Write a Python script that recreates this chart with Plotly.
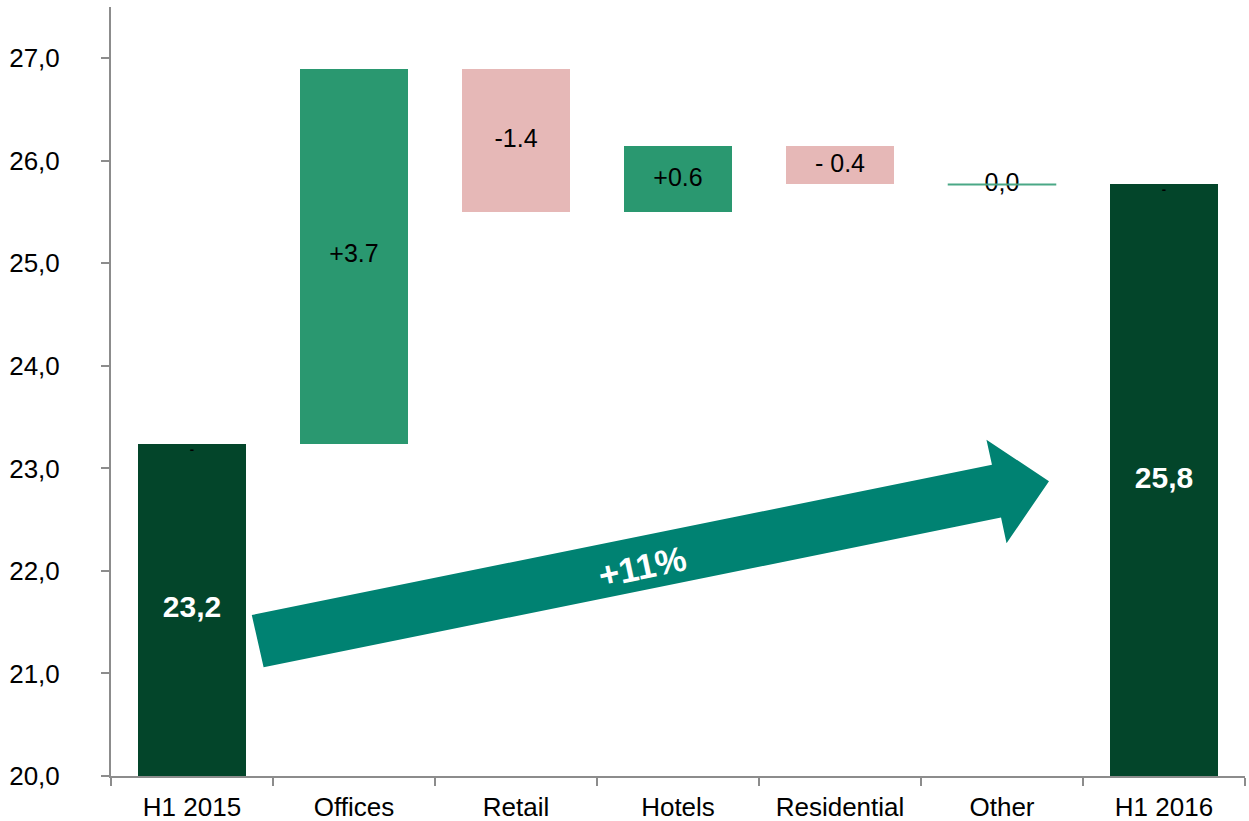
import plotly.graph_objects as go

# Waterfall data: opening total, segment changes, closing total
categories = ["H1 2015", "Offices", "Retail", "Hotels", "Residential", "Other", "H1 2016"]
opening_value = 23.24
segment_changes = [3.66, -1.40, 0.64, -0.37, 0.00]
segment_labels = ["+3.7", "-1.4", "+0.6", "- 0.4", "0,0"]
total_labels = ["23,2", "25,8"]
growth_label = "+11%"
y_ticks = [20, 21, 22, 23, 24, 25, 26, 27]

DARK = "#03452a"
UP = "#2a9870"
DOWN = "#e6b8b7"
ARROW = "#008272"
FONT = "Arial, Liberation Sans, sans-serif"
BAR_W = 0.67

closing_value = opening_value + sum(segment_changes)

# bar bases and heights
bases, heights, colors = [20.0], [opening_value - 20.0], [DARK]
level = opening_value
for ch in segment_changes:
    bases.append(level if ch >= 0 else level + ch)
    heights.append(abs(ch))
    colors.append(UP if ch >= 0 else DOWN)
    level += ch
bases.append(20.0)
heights.append(closing_value - 20.0)
colors.append(DARK)

fig = go.Figure()
fig.add_trace(go.Bar(
    x=categories, y=heights, base=bases, width=BAR_W,
    marker=dict(color=colors, line=dict(width=0)),
    hoverinfo="skip", showlegend=False,
))

# zero-change segment shown as a thin line
zero_idx = [i + 1 for i, ch in enumerate(segment_changes) if ch == 0]
for i in zero_idx:
    y0 = bases[i]
    fig.add_trace(go.Scatter(
        x=[i - BAR_W / 2, i + BAR_W / 2], y=[y0, y0], mode="lines",
        line=dict(color="#4aa886", width=2), hoverinfo="skip", showlegend=False,
        xaxis="x2",
    ))

# segment labels centred in bars
mids = [b + h / 2 for b, h in zip(bases, heights)]
fig.add_trace(go.Scatter(
    x=categories[1:-1], y=mids[1:-1], mode="text", text=segment_labels,
    textfont=dict(family=FONT, size=25, color="black"),
    hoverinfo="skip", showlegend=False,
))
fig.add_trace(go.Scatter(
    x=[categories[0], categories[-1]], y=[mids[0], mids[-1]], mode="text",
    text=total_labels,
    textfont=dict(family=FONT, size=30, color="white", weight="bold"),
    hoverinfo="skip", showlegend=False,
))
# small dash marks at top of total bars
fig.add_trace(go.Scatter(
    x=[categories[0], categories[-1]], y=[opening_value, closing_value], mode="text",
    text=["-", "-"], textposition="bottom center",
    textfont=dict(family=FONT, size=13, color="black", weight="bold"),
    hoverinfo="skip", showlegend=False,
))

# growth arrow (block arrow drawn on the numeric category scale)
arrow_pts = [(0.369, 21.57), (4.938, 23.035), (4.904, 23.28), (5.290, 22.875),
             (5.028, 22.27), (4.994, 22.52), (0.442, 21.06)]
path = "M " + " L ".join(f"{x},{y}" for x, y in arrow_pts) + " Z"
fig.add_shape(type="path", path=path, xref="x2", yref="y",
              fillcolor=ARROW, line=dict(width=0), layer="above")
fig.add_annotation(x=2.778, y=22.04, xref="x2", yref="y", text=growth_label,
                   showarrow=False, textangle=-12,
                   font=dict(family=FONT, size=35, color="white", weight="bold"))

fig.update_layout(
    width=1249, height=821,
    margin=dict(l=111, r=4, t=7, b=45, autoexpand=False),
    plot_bgcolor="white", paper_bgcolor="white",
    separators=",.",
    bargap=0,
    xaxis=dict(
        type="category", showgrid=False, showline=True, linecolor="#8c8c8c", linewidth=2,
        ticks="outside", tickson="boundaries", ticklen=8, tickcolor="#8c8c8c", tickwidth=2,
        tickfont=dict(family=FONT, size=26, color="black"), range=[-0.5, 6.5],
        ticklabelstandoff=7, automargin=False,
    ),
    xaxis2=dict(overlaying="x", range=[-0.5, 6.5], visible=False),
    yaxis=dict(
        range=[20, 27.5], showgrid=False, zeroline=False, showline=True,
        linecolor="#8c8c8c", linewidth=2, ticks="outside", ticklen=8,
        tickcolor="#8c8c8c", tickwidth=2, tickvals=y_ticks, tickformat=".1f",
        tickfont=dict(family=FONT, size=26, color="black"),
        ticklabelstandoff=36, automargin=False,
    ),
)

fig.write_html("out.html")
